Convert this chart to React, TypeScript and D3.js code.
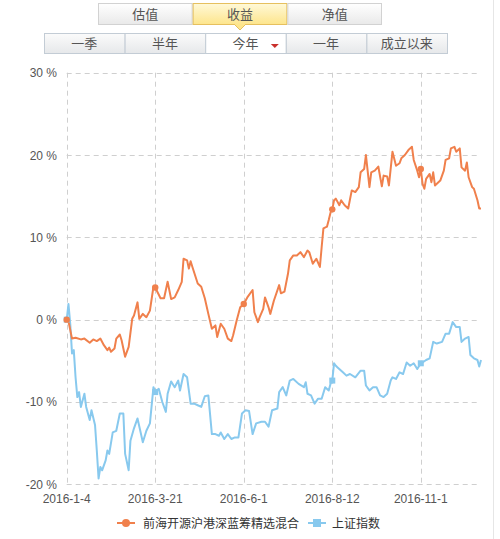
import { useRef, useEffect } from 'react'
import * as d3 from 'd3'

// trading-day index of each x tick, and its label
const tickIdx = [0, 50, 100, 150, 200]
const tickLabels = ['2016-1-4', '2016-3-21', '2016-6-1', '2016-8-12', '2016-11-1']
const yTicks = [-20, -10, 0, 10, 20, 30]

const fundName = '前海开源沪港深蓝筹精选混合'
const indexName = '上证指数'

// fund return (%), read at turning points: day index / value
const fundDay = [0, 1, 3, 5, 8, 10, 13, 15, 17, 19, 21, 23, 24, 25, 27, 28, 30, 31, 33, 35, 37, 38, 40, 41, 43, 45, 47, 49, 50, 53, 55, 57, 59, 61, 63, 65, 66, 68, 69, 70, 71, 74, 76, 78, 80, 82, 84, 85, 87, 89, 91, 93, 94, 96, 98, 100, 102, 105, 106, 107, 108, 109, 111, 112, 114, 115, 117, 120, 121, 123, 125, 126, 128, 130, 132, 134, 136, 137, 139, 141, 143, 144, 145, 147, 148, 149, 150, 151, 152, 154, 155, 157, 159, 161, 163, 165, 166, 168, 169, 171, 172, 174, 176, 178, 179, 181, 182, 184, 186, 188, 189, 191, 193, 195, 196, 198, 199, 200, 201, 202, 203, 205, 206, 207, 208, 211, 213, 214, 216, 217, 219, 220, 222, 223, 225, 226, 227, 229, 230, 232, 233, 234]
const fundVal = [0, -0.2, -2.3, -2.2, -2.4, -2.3, -2.8, -2.4, -2.6, -2.3, -3.1, -3.7, -3.4, -3.9, -3.5, -2.3, -1.8, -2.5, -4.5, -3.3, 0.1, 0.5, 2.1, 0.1, 0.7, 0.3, 1.1, 4.0, 3.9, 2.6, 2.6, 4.6, 2.5, 2.7, 3.6, 4.6, 7.4, 7.2, 6.2, 7.1, 6.4, 4.4, 4.0, 2.6, 0.7, -1.1, -0.7, -2.1, -0.5, -1.1, -2.3, -2.6, -1.9, -0.1, 1.5, 1.9, 2.7, 3.6, 0.9, 0.3, -0.3, 0.3, 1.3, 2.7, 1.5, 0.7, 2.3, 4.2, 3.2, 3.4, 5.6, 7.2, 7.8, 7.8, 8.2, 7.6, 8.4, 8.2, 6.8, 7.4, 6.4, 8.8, 11.1, 11.3, 12.1, 13.0, 13.4, 14.5, 14.7, 13.9, 14.5, 13.9, 13.5, 15.7, 15.5, 16.1, 17.9, 18.3, 20.0, 16.1, 17.9, 18.1, 18.6, 16.2, 17.5, 17.4, 16.3, 20.4, 18.7, 19.0, 19.6, 20.0, 20.6, 21.0, 19.4, 18.1, 17.3, 18.3, 16.5, 15.9, 17.1, 17.7, 16.7, 17.9, 16.3, 16.9, 18.1, 19.4, 19.6, 20.8, 21.0, 20.4, 20.8, 18.5, 18.1, 19.1, 17.3, 16.1, 15.9, 14.5, 13.5, 13.5]

// Shanghai composite return (%)
const indexDay = [0, 1, 2, 3, 4, 5, 6, 7, 8, 10, 11, 13, 14, 16, 17, 18, 19, 20, 22, 23, 24, 26, 28, 30, 32, 33, 35, 36, 38, 40, 43, 45, 47, 49, 50, 52, 54, 56, 57, 59, 61, 63, 64, 66, 68, 70, 72, 74, 76, 78, 80, 82, 84, 86, 87, 89, 91, 93, 95, 97, 99, 101, 103, 105, 107, 110, 112, 114, 116, 119, 120, 122, 124, 126, 128, 131, 134, 135, 136, 138, 140, 142, 144, 146, 148, 149, 150, 151, 152, 153, 156, 158, 160, 163, 166, 168, 169, 171, 173, 175, 177, 179, 181, 183, 184, 186, 188, 190, 192, 194, 196, 198, 200, 201, 203, 205, 207, 209, 212, 214, 216, 218, 220, 222, 223, 225, 227, 228, 230, 232, 233, 234]
const indexVal = [0, 1.9, -0.5, -4.1, -3.7, -7.0, -9.4, -8.8, -10.6, -9.0, -10.6, -12.2, -11.0, -12.8, -15.9, -19.3, -17.9, -18.3, -17.1, -15.9, -16.3, -13.7, -13.5, -11.4, -11.4, -16.3, -18.3, -14.7, -13.2, -12.0, -14.9, -13.5, -12.6, -8.2, -8.8, -8.4, -10.0, -11.2, -9.0, -7.5, -8.2, -7.4, -8.6, -6.6, -7.0, -10.2, -10.2, -10.4, -10.6, -9.3, -9.2, -13.9, -13.9, -14.1, -13.7, -14.5, -13.9, -14.5, -14.3, -14.3, -11.4, -11.0, -11.1, -13.9, -12.6, -12.4, -12.4, -13.0, -11.0, -10.8, -8.8, -8.2, -9.2, -7.4, -7.2, -7.8, -8.2, -7.6, -9.0, -9.2, -10.2, -9.6, -9.6, -8.2, -8.6, -7.8, -7.4, -5.3, -5.6, -5.8, -6.4, -6.8, -6.6, -7.0, -6.2, -6.2, -8.0, -8.6, -8.2, -8.2, -9.2, -9.4, -9.0, -7.4, -7.0, -7.2, -6.4, -6.6, -5.2, -5.6, -5.3, -6.0, -5.3, -5.2, -4.9, -4.7, -2.7, -2.9, -2.7, -1.7, -1.7, -0.3, -0.9, -0.9, -2.7, -2.3, -2.1, -4.3, -4.7, -4.9, -5.7, -4.9]

const tabs = ['估值', '收益', '净值']
const periods = ['一季', '半年', '今年', '一年', '成立以来']

const ORANGE = '#f0804c'
const BLUE = '#88c9ee'
const FONT = '"Liberation Sans", Arial, "Noto Sans CJK SC", sans-serif'

const App = () => {
  const svgRef = useRef<SVGSVGElement>(null)

  useEffect(() => {
    if (!svgRef.current) return
    const svg = d3.select(svgRef.current)
    svg.selectAll('*').remove()
    svg.style('font-family', FONT)

    const defs = svg.append('defs')
    const mkGrad = (id: string, c1: string, c2: string) => {
      const g = defs.append('linearGradient').attr('id', id)
        .attr('x1', 0).attr('y1', 0).attr('x2', 0).attr('y2', 1)
      g.append('stop').attr('offset', '0%').attr('stop-color', c1)
      g.append('stop').attr('offset', '100%').attr('stop-color', c2)
    }
    mkGrad('btnGrey', '#ffffff', '#e9e9e9')
    mkGrad('btnYellow', '#fff9d8', '#fde58c')
    mkGrad('cellGrey', '#fbfbfb', '#e6e8ea')

    // top tabs
    const tabX = d3.scaleBand().domain(tabs).range([98, 382])
    const tabG = svg.append('g')
    tabs.forEach((t, i) => {
      const sel = i === 1
      tabG.append('rect')
        .attr('x', tabX(t)! + 0.5).attr('y', 3.5)
        .attr('width', tabX.bandwidth() - 1).attr('height', 21)
        .attr('fill', sel ? 'url(#btnYellow)' : 'url(#btnGrey)')
        .attr('stroke', sel ? '#e6c05e' : '#d2d2d2')
      tabG.append('text')
        .attr('x', tabX(t)! + tabX.bandwidth() / 2).attr('y', 18.5)
        .attr('text-anchor', 'middle').attr('font-size', 13)
        .attr('fill', '#555').text(t)
    })
    const cx = tabX('收益')! + tabX.bandwidth() / 2
    tabG.append('path')
      .attr('d', `M${cx - 6},24 L${cx},30 L${cx + 6},24`)
      .attr('fill', '#fde58c').attr('stroke', '#e6c05e')

    // period selector
    const perX = d3.scaleBand().domain(periods).range([44, 447])
    const perG = svg.append('g')
    periods.forEach((p, i) => {
      const sel = i === 2
      perG.append('rect')
        .attr('x', perX(p)! + 0.5).attr('y', 33.5)
        .attr('width', perX.bandwidth()).attr('height', 20)
        .attr('fill', sel ? '#ffffff' : 'url(#cellGrey)')
        .attr('stroke', '#c3ccd5')
      perG.append('text')
        .attr('x', perX(p)! + perX.bandwidth() / 2).attr('y', 48)
        .attr('text-anchor', 'middle').attr('font-size', 13)
        .attr('fill', '#555').text(p)
    })
    const tx = perX('今年')! + perX.bandwidth() - 11
    perG.append('path')
      .attr('d', `M${tx - 4},44 L${tx + 4},44 L${tx},48 Z`)
      .attr('fill', '#c9302c')

    // chart
    const x = d3.scaleLinear().domain([0, 234]).range([66.7, 481])
    const y = d3.scaleLinear().domain([-20, 30]).range([484.3, 72.7])

    const grid = svg.append('g')
      .attr('stroke', '#cfcfcf').attr('stroke-dasharray', '5,4').attr('stroke-width', 1)
    yTicks.forEach(v => {
      grid.append('line')
        .attr('x1', x(0)).attr('x2', 480)
        .attr('y1', Math.round(y(v)) + 0.5).attr('y2', Math.round(y(v)) + 0.5)
    })
    tickIdx.forEach(d => {
      grid.append('line')
        .attr('x1', Math.round(x(d)) + 0.5).attr('x2', Math.round(x(d)) + 0.5)
        .attr('y1', y(30)).attr('y2', y(-20))
    })

    svg.append('g').selectAll('text').data(yTicks).join('text')
      .attr('x', 57).attr('y', d => y(d) + 4.5)
      .attr('text-anchor', 'end').attr('font-size', 12).attr('fill', '#555')
      .text(d => `${d} %`)

    svg.append('g').selectAll('text').data(tickIdx).join('text')
      .attr('x', d => x(d)).attr('y', 503)
      .attr('text-anchor', 'middle').attr('font-size', 12).attr('fill', '#555')
      .text((_, i) => tickLabels[i])

    const line = d3.line<[number, number]>()
      .x(d => x(d[0])).y(d => y(d[1]))
    const fund: [number, number][] = fundDay.map((d, i) => [d, fundVal[i]])
    const idx: [number, number][] = indexDay.map((d, i) => [d, indexVal[i]])

    svg.append('path').datum(idx)
      .attr('fill', 'none').attr('stroke', BLUE).attr('stroke-width', 2)
      .attr('stroke-linejoin', 'round').attr('d', line)
    svg.append('path').datum(fund)
      .attr('fill', 'none').attr('stroke', ORANGE).attr('stroke-width', 2)
      .attr('stroke-linejoin', 'round').attr('d', line)

    // markers on tick days
    idx.filter(d => tickIdx.includes(d[0])).forEach(d => {
      svg.append('rect')
        .attr('x', x(d[0]) - 3).attr('y', y(d[1]) - 3)
        .attr('width', 6).attr('height', 6).attr('fill', BLUE)
    })
    fund.filter(d => tickIdx.includes(d[0])).forEach(d => {
      svg.append('circle')
        .attr('cx', x(d[0])).attr('cy', y(d[1])).attr('r', 3.2).attr('fill', ORANGE)
    })

    // legend
    const lg = svg.append('g').attr('transform', 'translate(117,523)')
    lg.append('line').attr('x1', 0).attr('x2', 18).attr('y1', 0).attr('y2', 0)
      .attr('stroke', ORANGE).attr('stroke-width', 2)
    lg.append('circle').attr('cx', 9).attr('cy', 0).attr('r', 4).attr('fill', ORANGE)
    lg.append('text').attr('x', 26).attr('y', 4.5).attr('font-size', 12)
      .attr('fill', '#333').text(fundName)
    lg.append('line').attr('x1', 191).attr('x2', 209).attr('y1', 0).attr('y2', 0)
      .attr('stroke', BLUE).attr('stroke-width', 2)
    lg.append('rect').attr('x', 196).attr('y', -4).attr('width', 8).attr('height', 8)
      .attr('fill', BLUE)
    lg.append('text').attr('x', 215).attr('y', 4.5).attr('font-size', 12)
      .attr('fill', '#333').text(indexName)

    // page border on the right
    svg.append('line').attr('x1', 493.5).attr('x2', 493.5).attr('y1', 0).attr('y2', 539)
      .attr('stroke', '#e6e6e6')
  }, [])

  return (
    <div style={{ position: 'absolute', left: 0, top: 0, background: '#fff' }}>
      <svg ref={svgRef} width={500} height={539} style={{ display: 'block' }} />
    </div>
  )
}

export default App
